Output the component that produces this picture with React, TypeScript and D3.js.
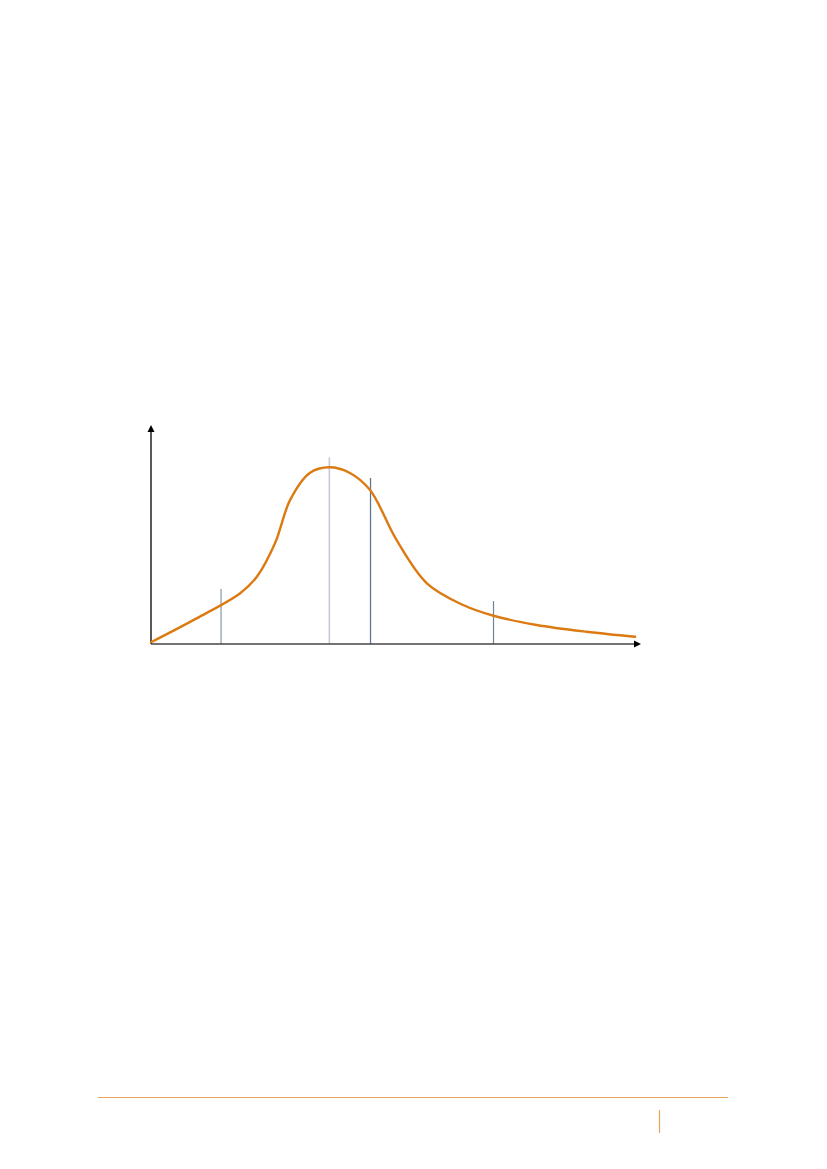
import { useEffect, useRef } from "react";
import * as d3 from "d3";

// curve, x and y in 0..100 units of the plot
const curveX = [0, 9.3, 18.2, 21.6, 25.3, 28.4, 32.4, 36.4, 40.6, 44.7, 50.1, 56.3, 63.7, 69.9, 78.7, 88.9, 98.8];
const curveY = [0.8, 11.7, 23.2, 30.7, 46.0, 65.8, 78.1, 80.7, 78.1, 70.3, 47.5, 27.7, 17.8, 12.9, 8.7, 5.6, 3.3];

// vertical marker lines
const markerX = [14.3, 36.4, 44.8, 69.9];
const markerTop = [25.1, 85.2, 75.8, 19.6];
const markerColor = ["#b3bfcb", "#c3cbd6", "#5f7993", "#6e8398"];
const markerWidth = [2, 1.6, 1.3, 1.2];

const W = 827;
const H = 1169;

export default function App(): JSX.Element {
  const ref = useRef<SVGSVGElement | null>(null);

  useEffect(() => {
    if (!ref.current) return;
    const svg = d3.select(ref.current);
    svg.selectAll("*").remove();

    const x = d3.scaleLinear().domain([0, 100]).range([151, 641]);
    const y = d3.scaleLinear().domain([0, 100]).range([644, 425]);

    // markers behind the curve
    svg
      .append("g")
      .selectAll("line")
      .data(markerX)
      .join("line")
      .attr("x1", (d) => x(d))
      .attr("x2", (d) => x(d))
      .attr("y1", y(0))
      .attr("y2", (_, i) => y(markerTop[i]))
      .attr("stroke", (_, i) => markerColor[i])
      .attr("stroke-width", (_, i) => markerWidth[i]);

    // axes
    svg
      .append("line")
      .attr("x1", x(0))
      .attr("x2", x(100) - 4)
      .attr("y1", y(0))
      .attr("y2", y(0))
      .attr("stroke", "#444")
      .attr("stroke-width", 1.3);
    svg
      .append("line")
      .attr("x1", x(0))
      .attr("x2", x(0))
      .attr("y1", y(0))
      .attr("y2", y(100) + 4)
      .attr("stroke", "#000")
      .attr("stroke-width", 1.3);
    svg
      .append("path")
      .attr("d", `M${x(100)},${y(0)} l-7,-3.5 l0,7 z`)
      .attr("fill", "#000");
    svg
      .append("path")
      .attr("d", `M${x(0)},${y(100)} l-3.5,7 l7,0 z`)
      .attr("fill", "#000");

    const pts: [number, number][] = curveX.map((v, i) => [v, curveY[i]]);
    const line = d3
      .line<[number, number]>()
      .x((d) => x(d[0]))
      .y((d) => y(d[1]))
      .curve(d3.curveCatmullRom.alpha(0.5));
    svg
      .append("path")
      .attr("d", line(pts) ?? "")
      .attr("fill", "none")
      .attr("stroke", "#dc7a12")
      .attr("stroke-width", 2.4)
      .attr("stroke-linecap", "round");

    // page footer rule and separator
    svg
      .append("line")
      .attr("x1", 98)
      .attr("x2", 728)
      .attr("y1", 1097.5)
      .attr("y2", 1097.5)
      .attr("stroke", "#e6a55a")
      .attr("stroke-width", 1.2);
    svg
      .append("line")
      .attr("x1", 659.5)
      .attr("x2", 659.5)
      .attr("y1", 1110)
      .attr("y2", 1133)
      .attr("stroke", "#e6a55a")
      .attr("stroke-width", 1.2);
  }, []);

  return (
    <svg
      ref={ref}
      width={W}
      height={H}
      style={{ position: "absolute", left: 0, top: 0, display: "block", background: "#fff" }}
    />
  );
}
